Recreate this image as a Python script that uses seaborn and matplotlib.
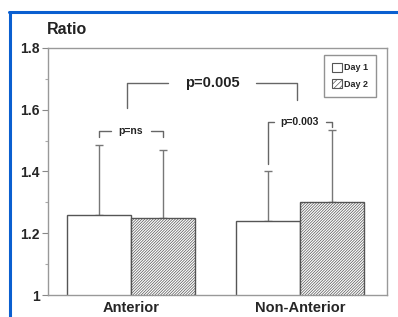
import numpy as np
import pandas as pd
import matplotlib
matplotlib.use("Agg")
import matplotlib.pyplot as plt
from matplotlib.patches import Patch
from matplotlib.lines import Line2D
import seaborn as sns

# data
groups = ["Anterior", "Non-Anterior"]
days = ["Day 1", "Day 2"]
day1_mean = [1.26, 1.24]
day2_mean = [1.25, 1.30]
day1_err = [0.226, 0.16]
day2_err = [0.22, 0.235]
p_within = ["p=ns", "p=0.003"]
p_between = "p=0.005"

df = pd.DataFrame({
    "group": groups * 2,
    "day": [days[0]] * 2 + [days[1]] * 2,
    "ratio": day1_mean + day2_mean,
    "err": day1_err + day2_err,
})

sns.set_theme(style="white")
plt.rcParams['font.family'] = ['Liberation Sans', 'DejaVu Sans']
plt.rcParams['font.weight'] = 'bold'
hcol = "#b4b4b4"
plt.rcParams['hatch.color'] = hcol
plt.rcParams['hatch.linewidth'] = 0.5

fig = plt.figure(figsize=(3.98, 3.17), dpi=100)
ax = fig.add_axes([0.1206, 0.0694, 0.9724 - 0.1206, 0.8486 - 0.0694])

edge = "#555555"
hatch = "/" * 12
sns.barplot(data=df, x="group", y="ratio", hue="day", order=groups, hue_order=days,
            palette=["white", "white"], width=0.757, errorbar=None, legend=False,
            edgecolor=edge, linewidth=1.0, ax=ax, zorder=2)

# bar centers in order: day1 groups, then day2 groups
bars = ax.patches[:4]
centers = {}
for i, b in enumerate(bars):
    d = days[i // 2]
    g = groups[i % 2]
    centers[(g, d)] = b.get_x() + b.get_width() / 2
    if d == "Day 2":
        b.set_hatch(hatch)
        try:
            b.set_hatchcolor(hcol)
        except AttributeError:
            b._hatch_color = matplotlib.colors.to_rgba(hcol)
        b.set_edgecolor(edge)

# one-sided error bars
for _, r in df.iterrows():
    cx = centers[(r["group"], r["day"])]
    ax.errorbar(cx, r["ratio"], yerr=[[0], [r["err"]]], fmt="none",
                ecolor="#777777", elinewidth=1.0, capsize=3, capthick=1.0, zorder=1)

lc = "#666666"
def bracket(x0, x1, y, yl0, yl1, text, fs, gap):
    xm = (x0 + x1) / 2
    ax.plot([x0, x0, xm - gap], [yl0, y, y], color=lc, lw=1.0, zorder=3)
    ax.plot([xm + gap, x1, x1], [y, y, yl1], color=lc, lw=1.0, zorder=3)
    ax.text(xm, y, text, ha="center", va="center", fontsize=fs, fontweight="bold",
            color="#222222", zorder=4)

# within-group brackets
a1, a2 = centers[("Anterior", "Day 1")], centers[("Anterior", "Day 2")]
n1, n2 = centers[("Non-Anterior", "Day 1")], centers[("Non-Anterior", "Day 2")]
bracket(a1, a2, 1.531, 1.512, 1.512, p_within[0], 7.5, 0.12)
bracket(n1, n2, 1.560, 1.424, 1.544, p_within[1], 7.5, 0.155)
# between-group bracket
bracket(-0.024, 1 - 0.018, 1.687, 1.606, 1.632, p_between, 10.5, 0.26)

ax.set_ylim(1.0, 1.8)
ax.set_xlim(-0.491, 1.515)
ax.set_yticks([1.0, 1.2, 1.4, 1.6, 1.8])
ax.set_yticklabels(["1", "1.2", "1.4", "1.6", "1.8"], fontsize=10, fontweight="bold")
ax.set_yticks([1.1, 1.3, 1.5, 1.7], minor=True)
ax.tick_params(axis="y", which="major", direction="out", length=4, width=0.8,
               color="#888888", left=True, pad=2)
ax.tick_params(axis="y", which="minor", direction="out", length=2, width=0.8,
               color="#aaaaaa", left=True)
ax.tick_params(axis="x", length=0, pad=4)
ax.set_xticks([0, 1])
ax.set_xticklabels(groups, fontsize=10.5, fontweight="bold")
ax.set_xlabel("")
ax.set_ylabel("")
for s in ax.spines.values():
    s.set_color("#999999")
    s.set_linewidth(1.0)

fig.text(47 / 398, 1 - 29 / 317, "Ratio", fontsize=11.5, fontweight="bold",
         ha="left", va="center", color="#222222")

handles = [Patch(facecolor="white", edgecolor=edge, lw=0.8, label="Day 1"),
           Patch(facecolor="white", edgecolor=edge, lw=0.8, hatch="/" * 6, label="Day 2")]
leg = ax.legend(handles=handles, loc="upper right", bbox_to_anchor=(0.968, 0.972),
                frameon=True, fancybox=False, handlelength=1.1,
                handleheight=1.1, handletextpad=0.25, borderpad=0.9, labelspacing=0.75,
                borderaxespad=0.0, prop={"weight": "bold", "size": 6.5})
leg.get_frame().set_edgecolor("#777777")
leg.get_frame().set_linewidth(1.0)

# blue page border
blue = "#0a5fd0"
fig.add_artist(Line2D([10 / 398, 10 / 398], [0, 1 - 12 / 317], color=blue, lw=2.2))
fig.add_artist(Line2D([9 / 398, 1], [1 - 12 / 317, 1 - 12 / 317], color=blue, lw=2.2))

fig.savefig("out.png", dpi=100)
